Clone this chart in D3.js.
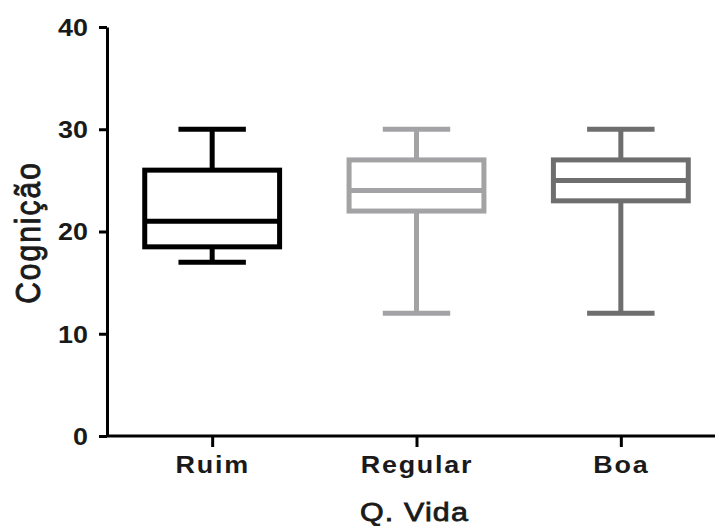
<!DOCTYPE html>
<html>
<head>
<meta charset="utf-8">
<script src="https://cdn.jsdelivr.net/npm/d3@7"></script>
<style>
  body { margin: 0; background: #fff; }
  text { font-family: "Liberation Sans", Arial, sans-serif; fill: #1a1a1a; }
</style>
</head>
<body>
<svg id="chart" width="715" height="526"></svg>
<script>
'use strict';

// Box plot values (min, q1, median, q3, max)
var categories = ['Ruim', 'Regular', 'Boa'];
var mins    = [17, 12, 12];
var q1s     = [18.5, 22, 23];
var medians = [21, 24, 25];
var q3s     = [26, 27, 27];
var maxs    = [30, 30, 30];
var colors  = ['#000000', '#a3a3a6', '#6e6e6e'];
var yTicks  = [0, 10, 20, 30, 40];

var svg = d3.select('#chart');
var stretch = 1.17;  // the source picture's text looks widened

var x = d3.scalePoint().domain(categories).range([110, 723]).padding(0.5);
var y = d3.scaleLinear().domain([0, 40]).range([436, 27]);
var step = x.step();

var boxes = categories.map(function(c, i) {
  return { cat: c, min: mins[i], q1: q1s[i], med: medians[i], q3: q3s[i], max: maxs[i], color: colors[i] };
});

// Axes
var yAxis = svg.append('g')
  .attr('transform', 'translate(107,0)')
  .call(d3.axisLeft(y).tickValues(yTicks).tickSize(8).tickSizeOuter(0).tickPadding(9));

var xAxis = svg.append('g')
  .attr('transform', 'translate(0,436)')
  .call(d3.axisBottom(x).tickSize(11).tickSizeOuter(0).tickPadding(9));

xAxis.select('.domain').attr('d', 'M107,0H715');

[yAxis, xAxis].forEach(function(a) {
  a.selectAll('.domain, .tick line').attr('stroke', '#000').attr('stroke-width', 3);
  a.selectAll('.tick text')
    .style('font-size', '23px').style('font-weight', 'bold')
    .attr('fill', '#1a1a1a');
});
yAxis.selectAll('.tick text')
  .attr('dy', '0.36em')
  .attr('x', -19 / stretch)
  .attr('transform', 'scale(' + stretch + ',1)');
xAxis.selectAll('.tick text')
  .attr('dy', '0.72em')
  .style('letter-spacing', '1.5px')
  .attr('transform', 'scale(' + stretch + ',1)');

// Boxes
var g = svg.selectAll('g.box').data(boxes).enter().append('g')
  .attr('class', 'box')
  .attr('stroke', function(d) { return d.color; })
  .attr('stroke-width', 5)
  .attr('fill', 'none');

var boxW = step * 0.66, capW = step * 0.33;

g.append('line')  // upper whisker
  .attr('x1', function(d) { return x(d.cat); }).attr('x2', function(d) { return x(d.cat); })
  .attr('y1', function(d) { return y(d.max); }).attr('y2', function(d) { return y(d.q3); });
g.append('line')  // lower whisker
  .attr('x1', function(d) { return x(d.cat); }).attr('x2', function(d) { return x(d.cat); })
  .attr('y1', function(d) { return y(d.q1); }).attr('y2', function(d) { return y(d.min); });
g.append('line')  // top cap
  .attr('x1', function(d) { return x(d.cat) - capW / 2; }).attr('x2', function(d) { return x(d.cat) + capW / 2; })
  .attr('y1', function(d) { return y(d.max); }).attr('y2', function(d) { return y(d.max); });
g.append('line')  // bottom cap
  .attr('x1', function(d) { return x(d.cat) - capW / 2; }).attr('x2', function(d) { return x(d.cat) + capW / 2; })
  .attr('y1', function(d) { return y(d.min); }).attr('y2', function(d) { return y(d.min); });
g.append('rect')
  .attr('fill', '#fff')
  .attr('x', function(d) { return x(d.cat) - boxW / 2; })
  .attr('width', boxW)
  .attr('y', function(d) { return y(d.q3); })
  .attr('height', function(d) { return y(d.q1) - y(d.q3); });
g.append('line')  // median
  .attr('x1', function(d) { return x(d.cat) - boxW / 2; }).attr('x2', function(d) { return x(d.cat) + boxW / 2; })
  .attr('y1', function(d) { return y(d.med); }).attr('y2', function(d) { return y(d.med); });

// Axis titles (regular weight, thickened a little with a thin stroke)
svg.append('text')
  .attr('transform', 'translate(' + (x('Regular') - 2) + ',521) scale(' + stretch + ',1)')
  .attr('text-anchor', 'middle')
  .attr('stroke', '#1a1a1a').attr('stroke-width', 0.8)
  .style('font-size', '26px')
  .style('letter-spacing', '1px')
  .text('Q. Vida');

svg.append('text')
  .attr('transform', 'translate(40,' + (y(20) + 1) + ') rotate(-90) scale(1,' + stretch + ')')
  .attr('text-anchor', 'middle')
  .attr('stroke', '#1a1a1a').attr('stroke-width', 0.8)
  .style('font-size', '30px')
  .style('letter-spacing', '2px')
  .text('Cognição');
</script>
</body>
</html>
